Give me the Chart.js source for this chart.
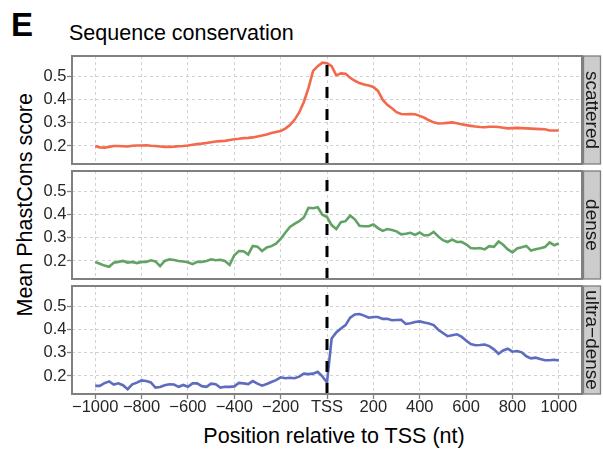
<!DOCTYPE html>
<html>
<head>
<meta charset="utf-8">
<script src="https://cdn.jsdelivr.net/npm/chart.js@4"></script>
<style>
    body { margin: 0; width: 603px; height: 451px; background: #fff; position: relative; overflow: hidden; font-family: 'Liberation Sans', Arial, sans-serif; }
    canvas { position: absolute; left: 0; top: 0; }
    .txt { position: absolute; white-space: nowrap; color: #000; line-height: 1; }
</style>
</head>
<body>
<div class="txt" style="left:11px;top:8px;font-size:33px;font-weight:bold">E</div>
<div class="txt" style="left:69px;top:22.5px;font-size:21.5px">Sequence conservation</div>
<div class="txt" style="left:-124.5px;top:194.25px;width:300px;height:21.5px;text-align:center;font-size:21.5px;transform:rotate(-90deg)">Mean PhastCons score</div>
<div class="txt" style="left:134px;top:426px;width:400px;text-align:center;font-size:21.5px">Position relative to TSS (nt)</div>
<canvas id="panelScattered" width="603" height="451"></canvas>
<canvas id="panelDense" width="603" height="451"></canvas>
<canvas id="panelUltraDense" width="603" height="451"></canvas>
<script>
// x grid: every 20 nt from -1000 to 1000
const positions = Array.from({length: 101}, (_, i) => -1000 + i * 20)
const xTicks = [-1000, -800, -600, -400, -200, 0, 200, 400, 600, 800, 1000]
const xTickLabels = ['\u22121000', '\u2212800', '\u2212600', '\u2212400', '\u2212200', 'TSS', '200', '400', '600', '800', '1000']
const yTicks = [0.2, 0.3, 0.4, 0.5]
const xRange = [-1100, 1100]
const yRange = [0.122, 0.589]
const tssPosition = 0

const scattered = [
    0.200, 0.194, 0.193, 0.196, 0.200, 0.200, 0.199, 0.198, 0.201, 0.202,
    0.202, 0.203, 0.201, 0.200, 0.198, 0.196, 0.196, 0.197, 0.199, 0.200,
    0.202, 0.205, 0.208, 0.210, 0.213, 0.216, 0.219, 0.221, 0.222, 0.226,
    0.229, 0.231, 0.234, 0.235, 0.237, 0.241, 0.245, 0.250, 0.256, 0.260,
    0.265, 0.275, 0.290, 0.313, 0.345, 0.390, 0.450, 0.525, 0.545, 0.560,
    0.558, 0.545, 0.505, 0.514, 0.512, 0.495, 0.482, 0.472, 0.466, 0.461,
    0.455, 0.438, 0.400, 0.378, 0.363, 0.346, 0.338, 0.337, 0.338, 0.337,
    0.330, 0.322, 0.311, 0.302, 0.297, 0.298, 0.300, 0.302, 0.298, 0.294,
    0.290, 0.287, 0.284, 0.282, 0.281, 0.283, 0.283, 0.282, 0.279, 0.276,
    0.277, 0.278, 0.277, 0.276, 0.275, 0.274, 0.273, 0.272, 0.267, 0.267,
    0.267,
]

const dense = [
    0.196, 0.188, 0.180, 0.175, 0.192, 0.196, 0.200, 0.193, 0.196, 0.191,
    0.196, 0.196, 0.203, 0.198, 0.178, 0.200, 0.207, 0.204, 0.200, 0.198,
    0.194, 0.186, 0.196, 0.196, 0.200, 0.207, 0.203, 0.205, 0.200, 0.183,
    0.225, 0.243, 0.242, 0.228, 0.265, 0.262, 0.243, 0.258, 0.264, 0.275,
    0.295, 0.322, 0.347, 0.360, 0.372, 0.388, 0.430, 0.428, 0.432, 0.400,
    0.390, 0.355, 0.338, 0.368, 0.372, 0.396, 0.380, 0.352, 0.350, 0.350,
    0.358, 0.342, 0.330, 0.338, 0.334, 0.328, 0.315, 0.318, 0.322, 0.313,
    0.323, 0.310, 0.312, 0.326, 0.306, 0.290, 0.282, 0.292, 0.282, 0.283,
    0.272, 0.256, 0.254, 0.256, 0.250, 0.264, 0.261, 0.284, 0.270, 0.250,
    0.237, 0.254, 0.259, 0.265, 0.245, 0.251, 0.255, 0.260, 0.280, 0.268,
    0.276,
]

const ultraDense = [
    0.157, 0.157, 0.169, 0.176, 0.163, 0.168, 0.160, 0.143, 0.164, 0.171,
    0.181, 0.178, 0.172, 0.150, 0.152, 0.160, 0.164, 0.163, 0.153, 0.161,
    0.153, 0.168, 0.168, 0.156, 0.153, 0.167, 0.164, 0.150, 0.153, 0.153,
    0.155, 0.170, 0.168, 0.165, 0.178, 0.167, 0.158, 0.165, 0.174, 0.182,
    0.194, 0.190, 0.192, 0.190, 0.197, 0.210, 0.208, 0.210, 0.218, 0.198,
    0.172, 0.362, 0.388, 0.405, 0.420, 0.452, 0.466, 0.468, 0.461, 0.452,
    0.455, 0.455, 0.447, 0.447, 0.441, 0.442, 0.443, 0.425, 0.428, 0.433,
    0.436, 0.431, 0.427, 0.420, 0.400, 0.386, 0.372, 0.376, 0.380, 0.370,
    0.353, 0.338, 0.333, 0.334, 0.336, 0.329, 0.315, 0.296, 0.310, 0.318,
    0.305, 0.308, 0.302, 0.285, 0.276, 0.279, 0.273, 0.268, 0.268, 0.270,
    0.267,
]

const panels = [
    {id: 'panelScattered', label: 'scattered', values: scattered, color: '#F2694B', top: 56, bottom: 164, showX: false},
    {id: 'panelDense', label: 'dense', values: dense, color: '#62A264', top: 171, bottom: 279, showX: false},
    {id: 'panelUltraDense', label: 'ultra\u2212dense', values: ultraDense, color: '#5D6CBE', top: 286, bottom: 394, showX: true},
]

Chart.defaults.font.family = "'Liberation Sans', Arial, sans-serif"

// gray panel border + facet strip box
const panelFrame = {
    id: 'panelFrame',
    beforeDraw (chart) {
        const {ctx, chartArea} = chart
        const strip = chart.scales.strip
        ctx.save()
        ctx.fillStyle = '#cccccc'
        ctx.strokeStyle = '#7f7f7f'
        ctx.lineWidth = 1.3
        ctx.fillRect(strip.left + 1.5, chartArea.top, 17, chartArea.height)
        ctx.strokeRect(strip.left + 1.5, chartArea.top, 17, chartArea.height)
        ctx.restore()
    },
    afterDraw (chart) {
        const {ctx, chartArea} = chart
        ctx.save()
        ctx.strokeStyle = '#808080'
        ctx.lineWidth = 2
        ctx.strokeRect(chartArea.left, chartArea.top, chartArea.width, chartArea.height)
        ctx.restore()
    },
}

const gridStyle = (drawTicks) => ({
    color: '#d2d2d2',
    lineWidth: 1,
    borderDash: [3, 3],
    drawTicks: drawTicks,
    tickLength: 5,
    tickColor: '#808080',
    tickWidth: 1.3,
    tickBorderDash: [],
})

const drawPanel = (p) => {
    new Chart(document.getElementById(p.id), {
        type: 'line',
        data: {
            datasets: [
                {
                    data: p.values.map((v, i) => ({x: positions[i], y: v})),
                    borderColor: p.color,
                    borderWidth: 2.6,
                    pointRadius: 0,
                    tension: 0,
                    order: 2,
                }, {
                    data: [{x: tssPosition, y: yRange[0]}, {x: tssPosition, y: yRange[1]}],
                    borderColor: '#000',
                    borderWidth: 3,
                    borderDash: [11, 11],
                    pointRadius: 0,
                    order: 1,
                }],
        },
        options: {
            responsive: false,
            animation: false,
            devicePixelRatio: 1,
            events: [],
            layout: {
                padding: {left: 0, right: 0, top: p.top, bottom: p.showX ? 0 : 451 - p.bottom},
            },
            plugins: {
                legend: {display: false},
                tooltip: {enabled: false},
            },
            scales: {
                x: {
                    type: 'linear',
                    min: xRange[0],
                    max: xRange[1],
                    afterBuildTicks: (scale) => { scale.ticks = xTicks.map(v => ({value: v})) },
                    afterFit: (scale) => { scale.height = p.showX ? 451 - p.bottom : 0 },
                    grid: gridStyle(p.showX),
                    border: {display: false, dash: [3, 3]},
                    ticks: {
                        display: p.showX,
                        padding: 0,
                        maxRotation: 0,
                        autoSkip: false,
                        color: '#262626',
                        font: {size: 16.5, lineHeight: 1},
                        callback: (value, index) => xTickLabels[index],
                    },
                },
                y: {
                    type: 'linear',
                    min: yRange[0],
                    max: yRange[1],
                    afterBuildTicks: (scale) => { scale.ticks = yTicks.map(v => ({value: v})) },
                    afterFit: (scale) => { scale.width = 72 },
                    grid: gridStyle(true),
                    border: {display: false, dash: [3, 3]},
                    ticks: {
                        padding: 0.5,
                        color: '#262626',
                        font: {size: 16.5},
                        callback: (value) => Number(value).toFixed(1),
                    },
                },
                strip: {
                    type: 'linear',
                    position: 'right',
                    display: true,
                    min: yRange[0],
                    max: yRange[1],
                    afterFit: (scale) => { scale.width = 21 },
                    grid: {display: false, drawTicks: false},
                    border: {display: false},
                    ticks: {display: false},
                    title: {
                        display: true,
                        text: p.label,
                        color: '#1a1a1a',
                        padding: 0,
                        font: {size: 19},
                    },
                },
            },
        },
        plugins: [panelFrame],
    })
}

panels.forEach(drawPanel)
</script>
</body>
</html>
